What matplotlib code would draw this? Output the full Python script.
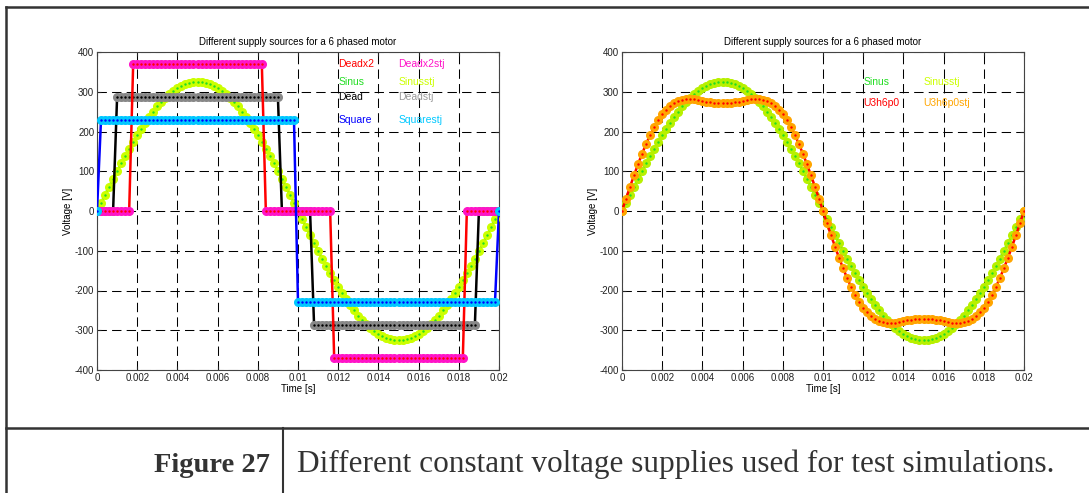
import numpy as np
import matplotlib
matplotlib.use("Agg")
import matplotlib.pyplot as plt
from matplotlib.lines import Line2D

plt.rcParams['font.family'] = ['Liberation Sans', 'DejaVu Sans']
plt.rcParams['axes.unicode_minus'] = False

# sample instants, 0 .. 0.02 s in steps of 0.2 ms
t = np.linspace(0, 0.02, 101)

# voltages [V]
sinus = [0, 20, 41, 61, 81, 100, 120, 138, 157, 174, 191, 207, 222, 237, 250, 263, 274,
         285, 294, 302, 309, 315, 319, 322, 324, 325, 324, 322, 319, 315, 309, 302, 294,
         285, 274, 263, 250, 237, 222, 207, 191, 174, 157, 138, 120, 100, 81, 61, 41, 20,
         0, -20, -41, -61, -81, -100, -120, -138, -157, -174, -191, -207, -222, -237, -250,
         -263, -274, -285, -294, -302, -309, -315, -319, -322, -324, -325, -324, -322, -319,
         -315, -309, -302, -294, -285, -274, -263, -250, -237, -222, -207, -191, -174, -157,
         -138, -120, -100, -81, -61, -41, -20, 0]

u3h6p0 = [0, 31, 61, 90, 118, 144, 169, 191, 211, 228, 243, 255, 264, 271, 277, 280, 281,
          281, 281, 279, 277, 275, 273, 272, 271, 271, 271, 272, 273, 275, 277, 279, 281,
          281, 281, 280, 277, 271, 264, 255, 243, 228, 211, 191, 169, 144, 118, 90, 61, 31,
          0, -31, -61, -90, -118, -144, -169, -191, -211, -228, -243, -255, -264, -271, -277,
          -280, -281, -281, -281, -279, -277, -275, -273, -272, -271, -271, -271, -272, -273,
          -275, -277, -279, -281, -281, -281, -280, -277, -271, -264, -255, -243, -228, -211,
          -191, -169, -144, -118, -90, -61, -31, 0]

deadx2 = [0] * 9 + [370] * 33 + [0] * 17 + [-370] * 33 + [0] * 9
dead = [0] * 5 + [287] * 41 + [0] * 8 + [-287] * 41 + [0] * 6
square = [0] + [230] * 49 + [-230] * 50 + [0]

xticks = [0, 0.002, 0.004, 0.006, 0.008, 0.01, 0.012, 0.014, 0.016, 0.018, 0.02]
xticklabels = ["0", "0.002", "0.004", "0.006", "0.008", "0.01", "0.012", "0.014",
               "0.016", "0.018", "0.02"]
yticks = [-400, -300, -200, -100, 0, 100, 200, 300, 400]

title = "Different supply sources for a 6 phased motor"

fig = plt.figure(figsize=(10.89, 4.93), dpi=100)


def setup(ax):
    ax.set_xlim(0, 0.02)
    ax.set_ylim(-400, 400)
    ax.set_xticks(xticks)
    ax.set_xticklabels(xticklabels)
    ax.set_yticks(yticks)
    ax.tick_params(direction="in", length=3, width=0.8, top=True, right=True,
                   labelsize=7, colors="#222222", pad=2)
    ax.grid(True, color="black", linestyle=(0, (9, 5)), linewidth=0.75)
    for s in ax.spines.values():
        s.set_color("#444444")
        s.set_linewidth(0.8)
    ax.set_xlabel("Time [s]", fontsize=7, labelpad=1)
    ax.set_ylabel("Voltage [V]", fontsize=7, labelpad=1)
    ax.set_title(title, fontsize=7, pad=5)


def pair(ax, y, c_line, c_stj, z):
    ax.plot(t, y, "-", color=c_line, lw=1.8, zorder=z)
    ax.plot(t, y, "o", ms=5.5, color=c_stj, mec=c_stj, zorder=z + 0.1)
    ax.plot(t, y, ".", ms=1.5, color=c_line, zorder=z + 0.2)


ax1 = fig.add_axes([97 / 1089, 1 - 370 / 493, 402 / 1089, 318 / 493])
ax2 = fig.add_axes([622 / 1089, 1 - 370 / 493, 402 / 1089, 318 / 493])
setup(ax1)
setup(ax2)

# left: square-wave variants
pair(ax1, sinus, "#22dd22", "#ccff00", 3)
pair(ax1, dead, "#000000", "#888888", 4)
pair(ax1, deadx2, "#ff0000", "#ff14c8", 5)
pair(ax1, square, "#0000ff", "#00c8ff", 6)

ax1.text(0.012, 370, "Deadx2", color="#ff0000", fontsize=7.5, va="center", zorder=10)
ax1.text(0.015, 370, "Deadx2stj", color="#ff14c8", fontsize=7.5, va="center", zorder=10)
ax1.text(0.012, 325, "Sinus", color="#22dd22", fontsize=7.5, va="center", zorder=10)
ax1.text(0.015, 325, "Sinusstj", color="#ccff00", fontsize=7.5, va="center", zorder=10)
ax1.text(0.012, 287, "Dead", color="#000000", fontsize=7.5, va="center", zorder=10)
ax1.text(0.015, 287, "Deadstj", color="#999999", fontsize=7.5, va="center", zorder=10)
ax1.text(0.012, 230, "Square", color="#0000ff", fontsize=7.5, va="center", zorder=10)
ax1.text(0.015, 230, "Squarestj", color="#00c8ff", fontsize=7.5, va="center", zorder=10)

# right: sine vs third-harmonic injection
pair(ax2, sinus, "#22dd22", "#b8f000", 3)
pair(ax2, u3h6p0, "#ff0000", "#ffa500", 4)

ax2.text(0.012, 325, "Sinus", color="#22dd22", fontsize=7.5, va="center", zorder=10)
ax2.text(0.015, 325, "Sinusstj", color="#ccff00", fontsize=7.5, va="center", zorder=10)
ax2.text(0.012, 271, "U3h6p0", color="#ff0000", fontsize=7.5, va="center", zorder=10)
ax2.text(0.015, 271, "U3h6p0stj", color="#ffa500", fontsize=7.5, va="center", zorder=10)

# frame and caption table
fc = "#333333"
fig.add_artist(Line2D([6 / 1089, 1], [1 - 7 / 493, 1 - 7 / 493], color=fc, lw=1.8,
                      transform=fig.transFigure))
fig.add_artist(Line2D([6 / 1089, 6 / 1089], [0, 1 - 7 / 493], color=fc, lw=1.8,
                      transform=fig.transFigure))
fig.add_artist(Line2D([6 / 1089, 1], [1 - 428 / 493, 1 - 428 / 493], color=fc, lw=1.8,
                      transform=fig.transFigure))
fig.add_artist(Line2D([283 / 1089, 283 / 1089], [0, 1 - 428 / 493], color=fc, lw=1.5,
                      transform=fig.transFigure))

fig.text(270 / 1089, 1 - 472 / 493, "Figure 27", family="Liberation Serif",
         weight="bold", fontsize=20.5, ha="right", va="baseline", color="#333333")
fig.text(297 / 1089, 1 - 472 / 493,
         "Different constant voltage supplies used for test simulations.",
         family="Liberation Serif", fontsize=22.5, ha="left", va="baseline", color="#333333")

fig.savefig("out.png", dpi=100)
